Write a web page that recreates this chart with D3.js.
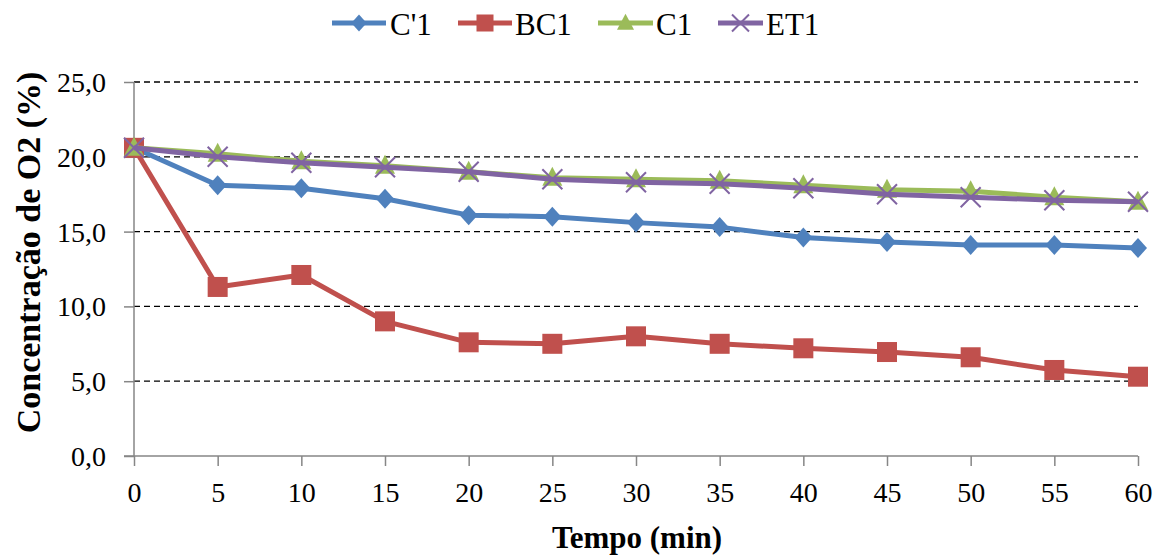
<!DOCTYPE html>
<html>
<head>
<meta charset="utf-8">
<script src="https://cdn.jsdelivr.net/npm/d3@7"></script>
<style>
  html, body { margin: 0; padding: 0; background: #fff; }
  svg { display: block; }
  svg text { font-family: "Liberation Serif", "Times New Roman", serif !important; fill: #000; }
</style>
</head>
<body>
<svg id="chart" width="1165" height="557"></svg>
<script>
// Oxygen concentration over time for four samples
const times = [0, 5, 10, 15, 20, 25, 30, 35, 40, 45, 50, 55, 60];
const cPrime1 = [20.6, 18.1, 17.9, 17.2, 16.1, 16.0, 15.6, 15.3, 14.6, 14.3, 14.1, 14.1, 13.9];
const bc1     = [20.6, 11.3, 12.1, 9.0, 7.6, 7.5, 8.0, 7.5, 7.2, 6.95, 6.6, 5.75, 5.3];
const c1      = [20.6, 20.2, 19.7, 19.4, 19.0, 18.6, 18.5, 18.4, 18.1, 17.8, 17.7, 17.3, 17.0];
const et1     = [20.6, 20.0, 19.6, 19.3, 19.0, 18.5, 18.3, 18.2, 17.9, 17.5, 17.3, 17.1, 17.0];
const seriesNames = ["C'1", "BC1", "C1", "ET1"];
const yTicks = [0, 5, 10, 15, 20, 25];
const xTicks = [0, 5, 10, 15, 20, 25, 30, 35, 40, 45, 50, 55, 60];
const yTitle = "Concentração de O2 (%)";
const xTitle = "Tempo (min)";

const series = [
  { name: seriesNames[0], values: cPrime1, color: "#4F81BD", marker: "diamond" },
  { name: seriesNames[1], values: bc1,     color: "#C0504D", marker: "square" },
  { name: seriesNames[2], values: c1,      color: "#9BBB59", marker: "triangle" },
  { name: seriesNames[3], values: et1,     color: "#8064A2", marker: "cross" }
];

const svg = d3.select("#chart");
const plot = { left: 134, right: 1138, top: 82, bottom: 456 };

const x = d3.scaleLinear().domain([0, 60]).range([plot.left, plot.right]);
const y = d3.scaleLinear().domain([0, 25]).range([plot.bottom, plot.top]);

// dashed horizontal gridlines
svg.append("g")
  .selectAll("line")
  .data(yTicks.filter(d => d > 0))
  .join("line")
  .attr("x1", plot.left).attr("x2", plot.right)
  .attr("y1", d => y(d)).attr("y2", d => y(d))
  .attr("stroke", "#000")
  .attr("stroke-width", 1.3)
  .attr("stroke-dasharray", "6,4");

// y axis
const yAxis = svg.append("g")
  .attr("transform", `translate(${plot.left},0)`)
  .call(d3.axisLeft(y).tickValues(yTicks).tickSize(10).tickPadding(18)
    .tickFormat(d => d3.format(".1f")(d).replace(".", ",")));
yAxis.select(".domain").attr("stroke", "#868686").attr("stroke-width", 1.5).attr("d", `M0,${plot.top}V${plot.bottom}`);
yAxis.selectAll(".tick line").attr("stroke", "#868686").attr("stroke-width", 1.5);
yAxis.selectAll(".tick text")
  .attr("font-size", 28).attr("dy", "0.34em");

// x axis
const xAxis = svg.append("g")
  .attr("transform", `translate(0,${plot.bottom})`)
  .call(d3.axisBottom(x).tickValues(xTicks).tickSize(10).tickPadding(10));
xAxis.select(".domain").attr("stroke", "#868686").attr("stroke-width", 1.5).attr("d", `M${plot.left - 10},0H${plot.right}`);
xAxis.selectAll(".tick line").attr("stroke", "#868686").attr("stroke-width", 1.5);
xAxis.selectAll(".tick text")
  .attr("font-size", 28).attr("dy", "0.92em");

// axis titles
svg.append("text")
  .attr("x", (plot.left + plot.right) / 2 + 1)
  .attr("y", 548)
  .attr("text-anchor", "middle")
  .attr("font-weight", "bold")
  .attr("font-size", 31)
  .text(xTitle);

svg.append("text")
  .attr("transform", `translate(40,${(65 + 440) / 2}) rotate(-90)`)
  .attr("text-anchor", "middle")
  .attr("font-weight", "bold")
  .attr("font-size", 34)
  .text(yTitle);

// marker shapes
function drawMarker(g, type, color, k = 1) {
  if (type === "diamond") {
    g.append("path").attr("d", `M0,${-10 * k}L${9 * k},0L0,${10 * k}L${-9 * k},0Z`).attr("fill", color);
  } else if (type === "square") {
    g.append("rect").attr("x", -10 * k).attr("y", -10 * k).attr("width", 20 * k).attr("height", 20 * k).attr("fill", color);
  } else if (type === "triangle") {
    g.append("path").attr("d", `M0,${-11 * k}L${10 * k},${8 * k}L${-10 * k},${8 * k}Z`).attr("fill", color);
  } else if (type === "cross") {
    g.append("path").attr("d", `M${-10 * k},${-10 * k}L${10 * k},${10 * k}M${-10 * k},${10 * k}L${10 * k},${-10 * k}`)
      .attr("stroke", color).attr("stroke-width", 2).attr("fill", "none");
  }
}

const line = d3.line().x((d, i) => x(times[i])).y(d => y(d));

series.forEach(s => {
  const g = svg.append("g");
  g.append("path")
    .datum(s.values)
    .attr("d", line)
    .attr("fill", "none")
    .attr("stroke", s.color)
    .attr("stroke-width", 5)
    .attr("stroke-linejoin", "round");
  s.values.forEach((v, i) => {
    const m = g.append("g").attr("transform", `translate(${x(times[i])},${y(v)})`);
    drawMarker(m, s.marker, s.color);
  });
});

// legend
const legendItems = [
  { x0: 332, x1: 386, tx: 390 },
  { x0: 458, x1: 512, tx: 515 },
  { x0: 598, x1: 653, tx: 656 },
  { x0: 718, x1: 763, tx: 766 }
];
series.forEach((s, i) => {
  const L = legendItems[i];
  const g = svg.append("g");
  g.append("line")
    .attr("x1", L.x0).attr("x2", L.x1).attr("y1", 23).attr("y2", 23)
    .attr("stroke", s.color).attr("stroke-width", 5);
  const m = g.append("g").attr("transform", `translate(${(L.x0 + L.x1) / 2},23)`);
  drawMarker(m, s.marker, s.color, 0.85);
  g.append("text")
    .attr("x", L.tx).attr("y", 35)
    .attr("font-size", 31)
    .text(s.name);
});
</script>
</body>
</html>
